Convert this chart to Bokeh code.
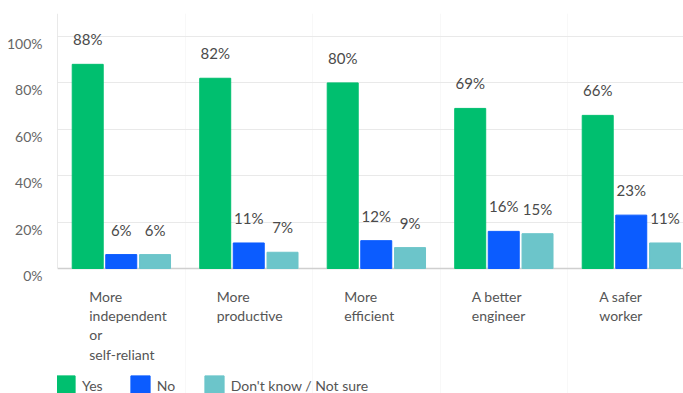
from bokeh.plotting import figure
from bokeh.models import (Range1d, LinearAxis, FixedTicker, PrintfTickFormatter,
                          Legend, LegendItem, ColumnDataSource)
from bokeh.core.properties import value
from bokeh.embed import file_html
from bokeh.resources import INLINE

categories = ["More\nindependent\nor\nself-reliant", "More\nproductive", "More\nefficient",
              "A better\nengineer", "A safer\nworker"]
series_names = ["Yes", "No", "Don't know / Not sure"]
yes_vals = [88, 82, 80, 69, 66]
no_vals = [6, 11, 12, 16, 23]
dk_vals = [6, 7, 9, 15, 11]
y_ticks = [0, 20, 40, 60, 80, 100]

colors = ["#00BF6F", "#0B5CFF", "#6CC5CA"]
FONT = "Lato"

# layout geometry (pixels)
W, H = 683, 393
LEFT, TOP = 57, 13
PX = 2.32            # pixels per percentage point
UNIT = 127.5         # pixels per category
y_max = 100 + (36 - TOP) / PX
y_min = y_max - (H - TOP) / PX
x_end = (W - LEFT) / UNIT

p = figure(width=W, height=H, output_backend="svg", toolbar_location=None,
           x_range=Range1d(0, x_end), y_range=Range1d(y_min, y_max),
           x_axis_location=None, y_axis_location=None,
           min_border_left=LEFT, min_border_right=0, min_border_top=TOP, min_border_bottom=0)
p.outline_line_color = None
p.background_fill_color = "white"

# y axis (labels drawn slightly below their gridline, as in the reference)
shift = 7 / PX
p.extra_y_ranges = {"lab": Range1d(y_min + shift, y_max + shift)}
yax = LinearAxis(y_range_name="lab", ticker=FixedTicker(ticks=y_ticks),
                 formatter=PrintfTickFormatter(format="%d%%"))
yax.axis_line_color = None
yax.major_tick_line_color = None
yax.minor_tick_line_color = None
yax.major_label_standoff = 9
yax.major_label_text_font = FONT
yax.major_label_text_font_size = "14px"
yax.major_label_text_color = "#666666"
p.add_layout(yax, "left")

p.ygrid.ticker = FixedTicker(ticks=[20, 40, 60, 80, 100])
p.ygrid.grid_line_color = "#E9E9E9"
p.xgrid.ticker = FixedTicker(ticks=[1, 2, 3, 4])
p.xgrid.grid_line_color = "#F8F8F8"

# axis lines
p.segment(x0=[0], y0=[0], x1=[0], y1=[y_max], line_color="#D4D4D4", line_width=1)
p.segment(x0=[0], y0=[0], x1=[x_end], y1=[0], line_color="#CFCFCF", line_width=1.5)

offsets = [-0.263, 0.0, 0.265]
bar_w = 0.243
renderers = []
for vals, off, col in zip([yes_vals, no_vals, dk_vals], offsets, colors):
    xs = [i + 0.5 + off for i in range(len(categories))]
    src = ColumnDataSource(dict(x=xs, top=vals,
                                ly=[v + 25 / PX for v in vals],
                                lab=[f"{v}%" for v in vals]))
    r = p.vbar(x="x", top="top", width=bar_w, bottom=0, source=src,
               fill_color=col, line_color=col)
    renderers.append(r)
    p.text(x="x", y="ly", text="lab", source=src, text_align="center",
           text_baseline="middle", text_font=value(FONT), text_font_size="15px",
           text_color="#4A4A4A")

# category labels
cat_src = ColumnDataSource(dict(x=[i + 0.5 - 32 / UNIT for i in range(len(categories))],
                                y=[-19 / PX] * len(categories), t=categories))
p.text(x="x", y="y", text="t", source=cat_src, text_align="left", text_baseline="top",
       text_font=value(FONT), text_font_size="14px", text_color="#555555",
       text_line_height=1.14)

legend = Legend(items=[LegendItem(label=n, renderers=[r]) for n, r in zip(series_names, renderers)],
                orientation="horizontal", location=(-4, -4),
                glyph_width=24, glyph_height=24, label_standoff=5, spacing=25,
                padding=0, margin=0, border_line_color=None, background_fill_alpha=0,
                label_text_font=FONT, label_text_font_size="14px", label_text_color="#555555")
p.add_layout(legend)

open("out.html", "w").write(file_html(p, INLINE))
